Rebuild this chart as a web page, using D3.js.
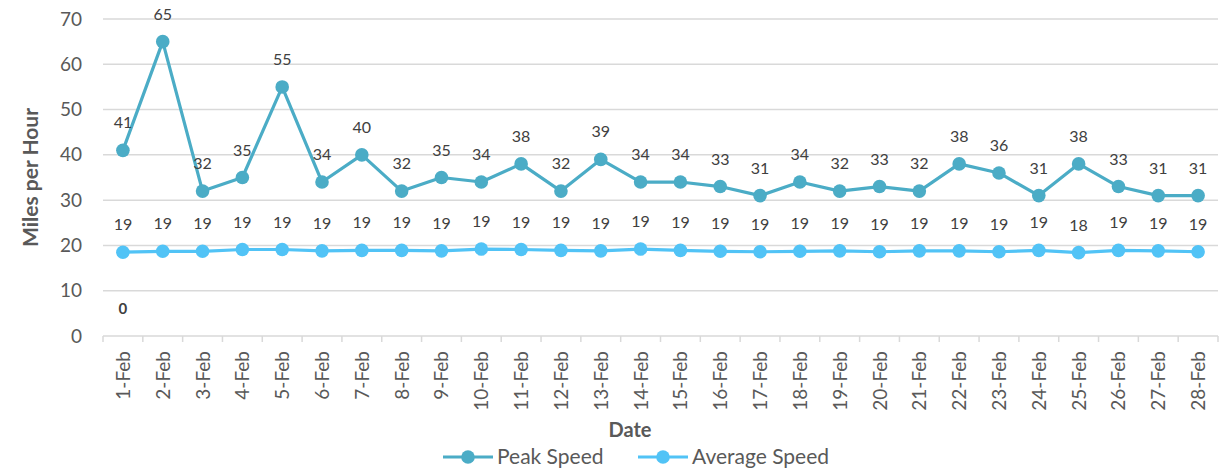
<!DOCTYPE html>
<html>
<head>
<meta charset="utf-8">
<script src="https://cdn.jsdelivr.net/npm/d3@7"></script>
<style>
  body { margin: 0; background: #fff; }
  svg { display: block; font-family: Lato, "Open Sans", sans-serif; }
</style>
</head>
<body>
<div id="chart"></div>
<script>
// data
var dates = ["1-Feb","2-Feb","3-Feb","4-Feb","5-Feb","6-Feb","7-Feb","8-Feb","9-Feb","10-Feb",
             "11-Feb","12-Feb","13-Feb","14-Feb","15-Feb","16-Feb","17-Feb","18-Feb","19-Feb","20-Feb",
             "21-Feb","22-Feb","23-Feb","24-Feb","25-Feb","26-Feb","27-Feb","28-Feb"];
var peakSpeed = [41,65,32,35,55,34,40,32,35,34,38,32,39,34,34,33,31,34,32,33,32,38,36,31,38,33,31,31];
var avgSpeed = [18.5,18.7,18.7,19.1,19.1,18.8,18.9,18.9,18.8,19.2,19.1,18.9,18.8,19.2,18.9,18.7,
                18.6,18.7,18.8,18.6,18.8,18.8,18.6,18.9,18.4,18.9,18.8,18.6];
var zeroSeries = [0];   // stray label only, no marker
var yTicks = [0,10,20,30,40,50,60,70];
var seriesNames = ["Peak Speed","Average Speed"];

var W = 1223, H = 470;
var margin = {top: 19, right: 5, bottom: 134, left: 103};
var width = W - margin.left - margin.right;
var height = H - margin.top - margin.bottom;

var peakColor = "#4bacc6";
var avgColor = "#51c3f6";
var gridColor = "#d9d9d9";
var textColor = "#595959";

var svg = d3.select("#chart").append("svg")
    .attr("width", W)
    .attr("height", H);

var g = svg.append("g")
    .attr("transform", "translate(" + margin.left + "," + margin.top + ")");

var x = d3.scaleBand().domain(dates).range([0, width]);
var y = d3.scaleLinear().domain([0, 70]).range([height, 0]);

// gridlines
g.selectAll(".grid")
  .data(yTicks.slice(1))
  .enter().append("line")
    .attr("x1", 0).attr("x2", width)
    .attr("y1", function(d){ return y(d); })
    .attr("y2", function(d){ return y(d); })
    .attr("stroke", gridColor)
    .attr("stroke-width", 1.5);

// y axis labels
var yAxis = g.append("g")
    .call(d3.axisLeft(y).tickValues(yTicks).tickSize(0).tickPadding(21));
yAxis.select(".domain").remove();
yAxis.selectAll("text")
    .attr("fill", textColor)
    .style("font-size", "19px")
    .style("font-family", "Lato, sans-serif");

// x axis with category boundary ticks
var xAxisG = g.append("g").attr("transform", "translate(0," + height + ")");
xAxisG.append("line")
    .attr("x1", 0).attr("x2", width)
    .attr("stroke", gridColor).attr("stroke-width", 1.5);
xAxisG.selectAll(".bt")
  .data(d3.range(dates.length + 1))
  .enter().append("line")
    .attr("x1", function(i){ return i * x.step(); })
    .attr("x2", function(i){ return i * x.step(); })
    .attr("y1", 0).attr("y2", 6)
    .attr("stroke", gridColor).attr("stroke-width", 1.5);
xAxisG.selectAll(".xl")
  .data(dates)
  .enter().append("text")
    .attr("transform", function(d){
        return "translate(" + (x(d) + x.bandwidth()/2 + 7) + ",15) rotate(-90)";
    })
    .attr("text-anchor", "end")
    .attr("fill", textColor)
    .style("font-size", "19px")
    .text(function(d){ return d; });

// axis titles
svg.append("text")
    .attr("transform", "translate(38," + (margin.top + height/2) + ") rotate(-90)")
    .attr("text-anchor", "middle")
    .attr("fill", textColor)
    .style("font-size", "21px")
    .style("font-weight", "bold")
    .text("Miles per Hour");

svg.append("text")
    .attr("x", 630).attr("y", 437)
    .attr("text-anchor", "middle")
    .attr("fill", textColor)
    .style("font-size", "20px")
    .style("font-weight", "bold")
    .text("Date");

function cx(i){ return x(dates[i]) + x.bandwidth()/2; }

function drawSeries(vals, color){
  var line = d3.line()
      .x(function(d, i){ return cx(i); })
      .y(function(d){ return y(d); });
  g.append("path")
      .datum(vals)
      .attr("d", line)
      .attr("fill", "none")
      .attr("stroke", color)
      .attr("stroke-width", 3.2)
      .attr("stroke-linejoin", "round");
  g.selectAll(null)
    .data(vals)
    .enter().append("circle")
      .attr("cx", function(d, i){ return cx(i); })
      .attr("cy", function(d){ return y(d); })
      .attr("r", 6.8)
      .attr("fill", color);
  g.selectAll(null)
    .data(vals)
    .enter().append("text")
      .attr("x", function(d, i){ return cx(i); })
      .attr("y", function(d){ return y(d) - 22; })
      .attr("text-anchor", "middle")
      .attr("fill", "#404040")
      .style("font-size", "16px")
      .text(function(d){ return Math.round(d); });
}

drawSeries(peakSpeed, peakColor);
drawSeries(avgSpeed, avgColor);

// stray bold "0" label
g.selectAll(null)
  .data(zeroSeries)
  .enter().append("text")
    .attr("x", function(d, i){ return cx(i); })
    .attr("y", function(d){ return y(d) - 22; })
    .attr("text-anchor", "middle")
    .attr("fill", "#404040")
    .style("font-size", "15px")
    .style("font-weight", "bold")
    .text(function(d){ return d; });

// legend
var legend = svg.append("g").attr("transform", "translate(0,457)");
var legendX = [443, 638];
var legendCol = [peakColor, avgColor];
seriesNames.forEach(function(name, i){
  var lg = legend.append("g").attr("transform", "translate(" + legendX[i] + ",0)");
  lg.append("line")
      .attr("x1", 0).attr("x2", 50)
      .attr("stroke", legendCol[i]).attr("stroke-width", 3.2);
  lg.append("circle")
      .attr("cx", 25).attr("r", 6.8)
      .attr("fill", legendCol[i]);
  lg.append("text")
      .attr("x", 54).attr("y", 7)
      .attr("fill", textColor)
      .style("font-size", "21px")
      .text(name);
});
</script>
</body>
</html>
